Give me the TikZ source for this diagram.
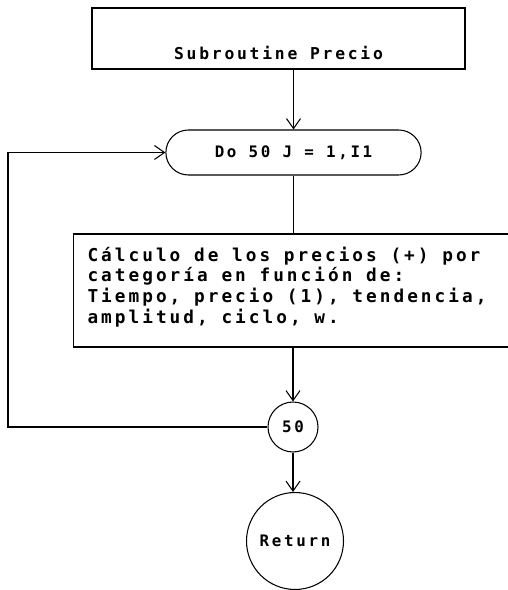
\documentclass[tikz,border=0pt]{standalone}
\usepackage{fontspec}
\usepackage{tikz}
\usetikzlibrary{arrows.meta, shapes.misc}
\newfontfamily\matriz[LetterSpace=17]{DejaVu Sans Mono}

\tikzset{
  texto/.style={font=\matriz\bfseries\fontsize{9}{11.4}\selectfont},
  caja/.style={draw, thick, rectangle, texto},
  bucle/.style={draw, semithick, rounded rectangle, texto},
  conector/.style={draw, semithick, circle, inner sep=0pt, texto},
  flecha/.style={semithick, -{Straight Barb[length=2mm, width=2.8mm]}}
}

\begin{document}
\begin{tikzpicture}[x=0.02cm, y=-0.02cm]
        % Marco de la imagen
        \useasboundingbox (0,0) rectangle (507,590);

        % Cabecera y bucle DO
        \node[caja, font=\matriz\bfseries\fontsize{9.3}{11}\selectfont, minimum width=7.46cm, inner ysep=0.05cm,
              text height=0.99cm, text depth=0.13cm] (titulo) at (278.5,38.5) {Subroutine Precio};
        \node[bucle, minimum width=5.34cm, minimum height=0.9cm] (do) at (293.5,152.5) {Do 50 J = 1,I1};

        % Bloque de calculo (sale por el borde derecho)
        \node[caja, semithick, font=\matriz\bfseries\fontsize{10.1}{11.8}\selectfont, anchor=west,
              minimum width=9.5cm, minimum height=2.26cm,
              text width=8.94cm, inner xsep=0.28cm, align=left,
              execute at begin node={\spaceskip=0pt\relax}] (calculo) at (73,290.5)
              {Cálculo de los precios (+) por\\
               categoría en función de:\\
               Tiempo, precio (1), tendencia,\\
               amplitud, ciclo, w.\rule[-0.22cm]{0pt}{0pt}};

        % Conectores circulares
        \node[conector, minimum size=1cm] (c50) at (293,427) {50};
        \node[conector, minimum size=1.94cm] (fin) at (295,541) {Return};

        % Lineas de flujo
        \draw[flecha] (do.north |- titulo.south) -- (do.north);
        \draw[thin] (do.south) -- (do.south |- calculo.north);
        \draw[flecha] (c50.north |- calculo.south) -- (c50.north);
        \draw[flecha] (c50.south) -- (c50.south |- fin.north);

        % Retorno del bucle
        \coordinate (izq) at (8,427);
        \draw[flecha] (c50.west) -- (izq) |- (do.west);
\end{tikzpicture}
\end{document}
